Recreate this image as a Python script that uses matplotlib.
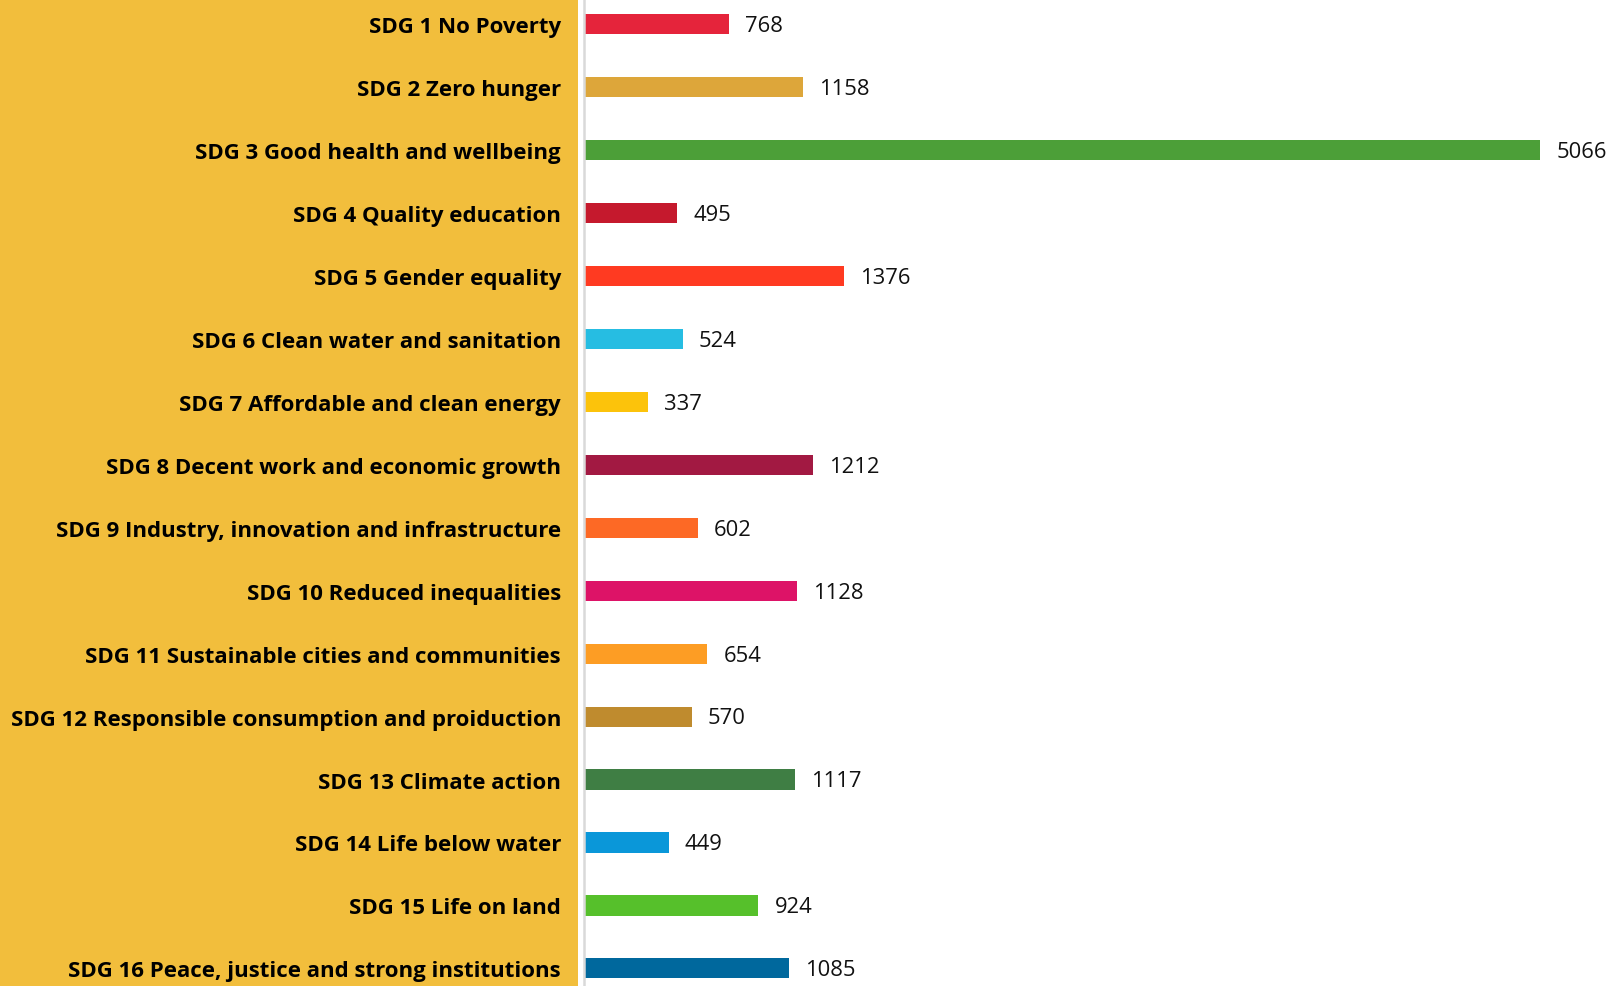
import matplotlib.pyplot as plt
from matplotlib.patches import Rectangle

labels = [
    "SDG 1 No Poverty",
    "SDG 2 Zero hunger",
    "SDG 3 Good health and wellbeing",
    "SDG 4 Quality education",
    "SDG 5 Gender equality",
    "SDG 6 Clean water and sanitation",
    "SDG 7 Affordable and clean energy",
    "SDG 8 Decent work and economic growth",
    "SDG 9 Industry, innovation and infrastructure",
    "SDG 10 Reduced inequalities",
    "SDG 11 Sustainable cities and communities",
    "SDG 12 Responsible consumption and proiduction",
    "SDG 13 Climate action",
    "SDG 14 Life below water",
    "SDG 15 Life on land",
    "SDG 16 Peace, justice and strong institutions",
]
values = [768, 1158, 5066, 495, 1376, 524, 337, 1212, 602, 1128, 654, 570, 1117, 449, 924, 1085]
colors = ["#E5243B", "#DDA63A", "#4C9F38", "#C5192D", "#FF3A21", "#26BDE2", "#FCC30B", "#A21942",
          "#FD6925", "#DD1367", "#FD9D24", "#BF8B2E", "#3F7E44", "#0A97D9", "#56C02B", "#00689D"]

W, H = 1613, 987
fig = plt.figure(figsize=(W / 100, H / 100), dpi=100)
fig.patches.append(Rectangle((0, 0), 578 / W, 1, transform=fig.transFigure,
                             facecolor="#F2BE3C", edgecolor="none", zorder=-1))

ax_left = 584 / W
ax = fig.add_axes([ax_left, 0, 1 - ax_left, 1])
ax.set_facecolor("none")

ypos = list(range(len(labels)))
ax.barh(ypos, values, height=0.32, color=colors)
# value labels
for y, v in zip(ypos, values):
    ax.annotate(str(v), (v, y), xytext=(11.5, -1), textcoords="offset points",
                va="center", ha="left", fontsize=15.8, family="Open Sans", color="#111111")

# px per unit: 0.1888 -> axis width 1029 px
ax.set_xlim(0, (W - 584) / 0.1888)
ax.set_ylim(15.28, -0.40)

ax.set_yticks(ypos)
ax.set_yticklabels(labels, fontsize=16, fontweight="bold", family="Open Sans")
ax.tick_params(axis="y", length=0, pad=16.5)
ax.set_xticks([])
for s in ["top", "right", "bottom"]:
    ax.spines[s].set_visible(False)
ax.spines["left"].set_color("#D9D9D9")
ax.spines["left"].set_linewidth(1.8)

fig.savefig("out.png", dpi=100)
